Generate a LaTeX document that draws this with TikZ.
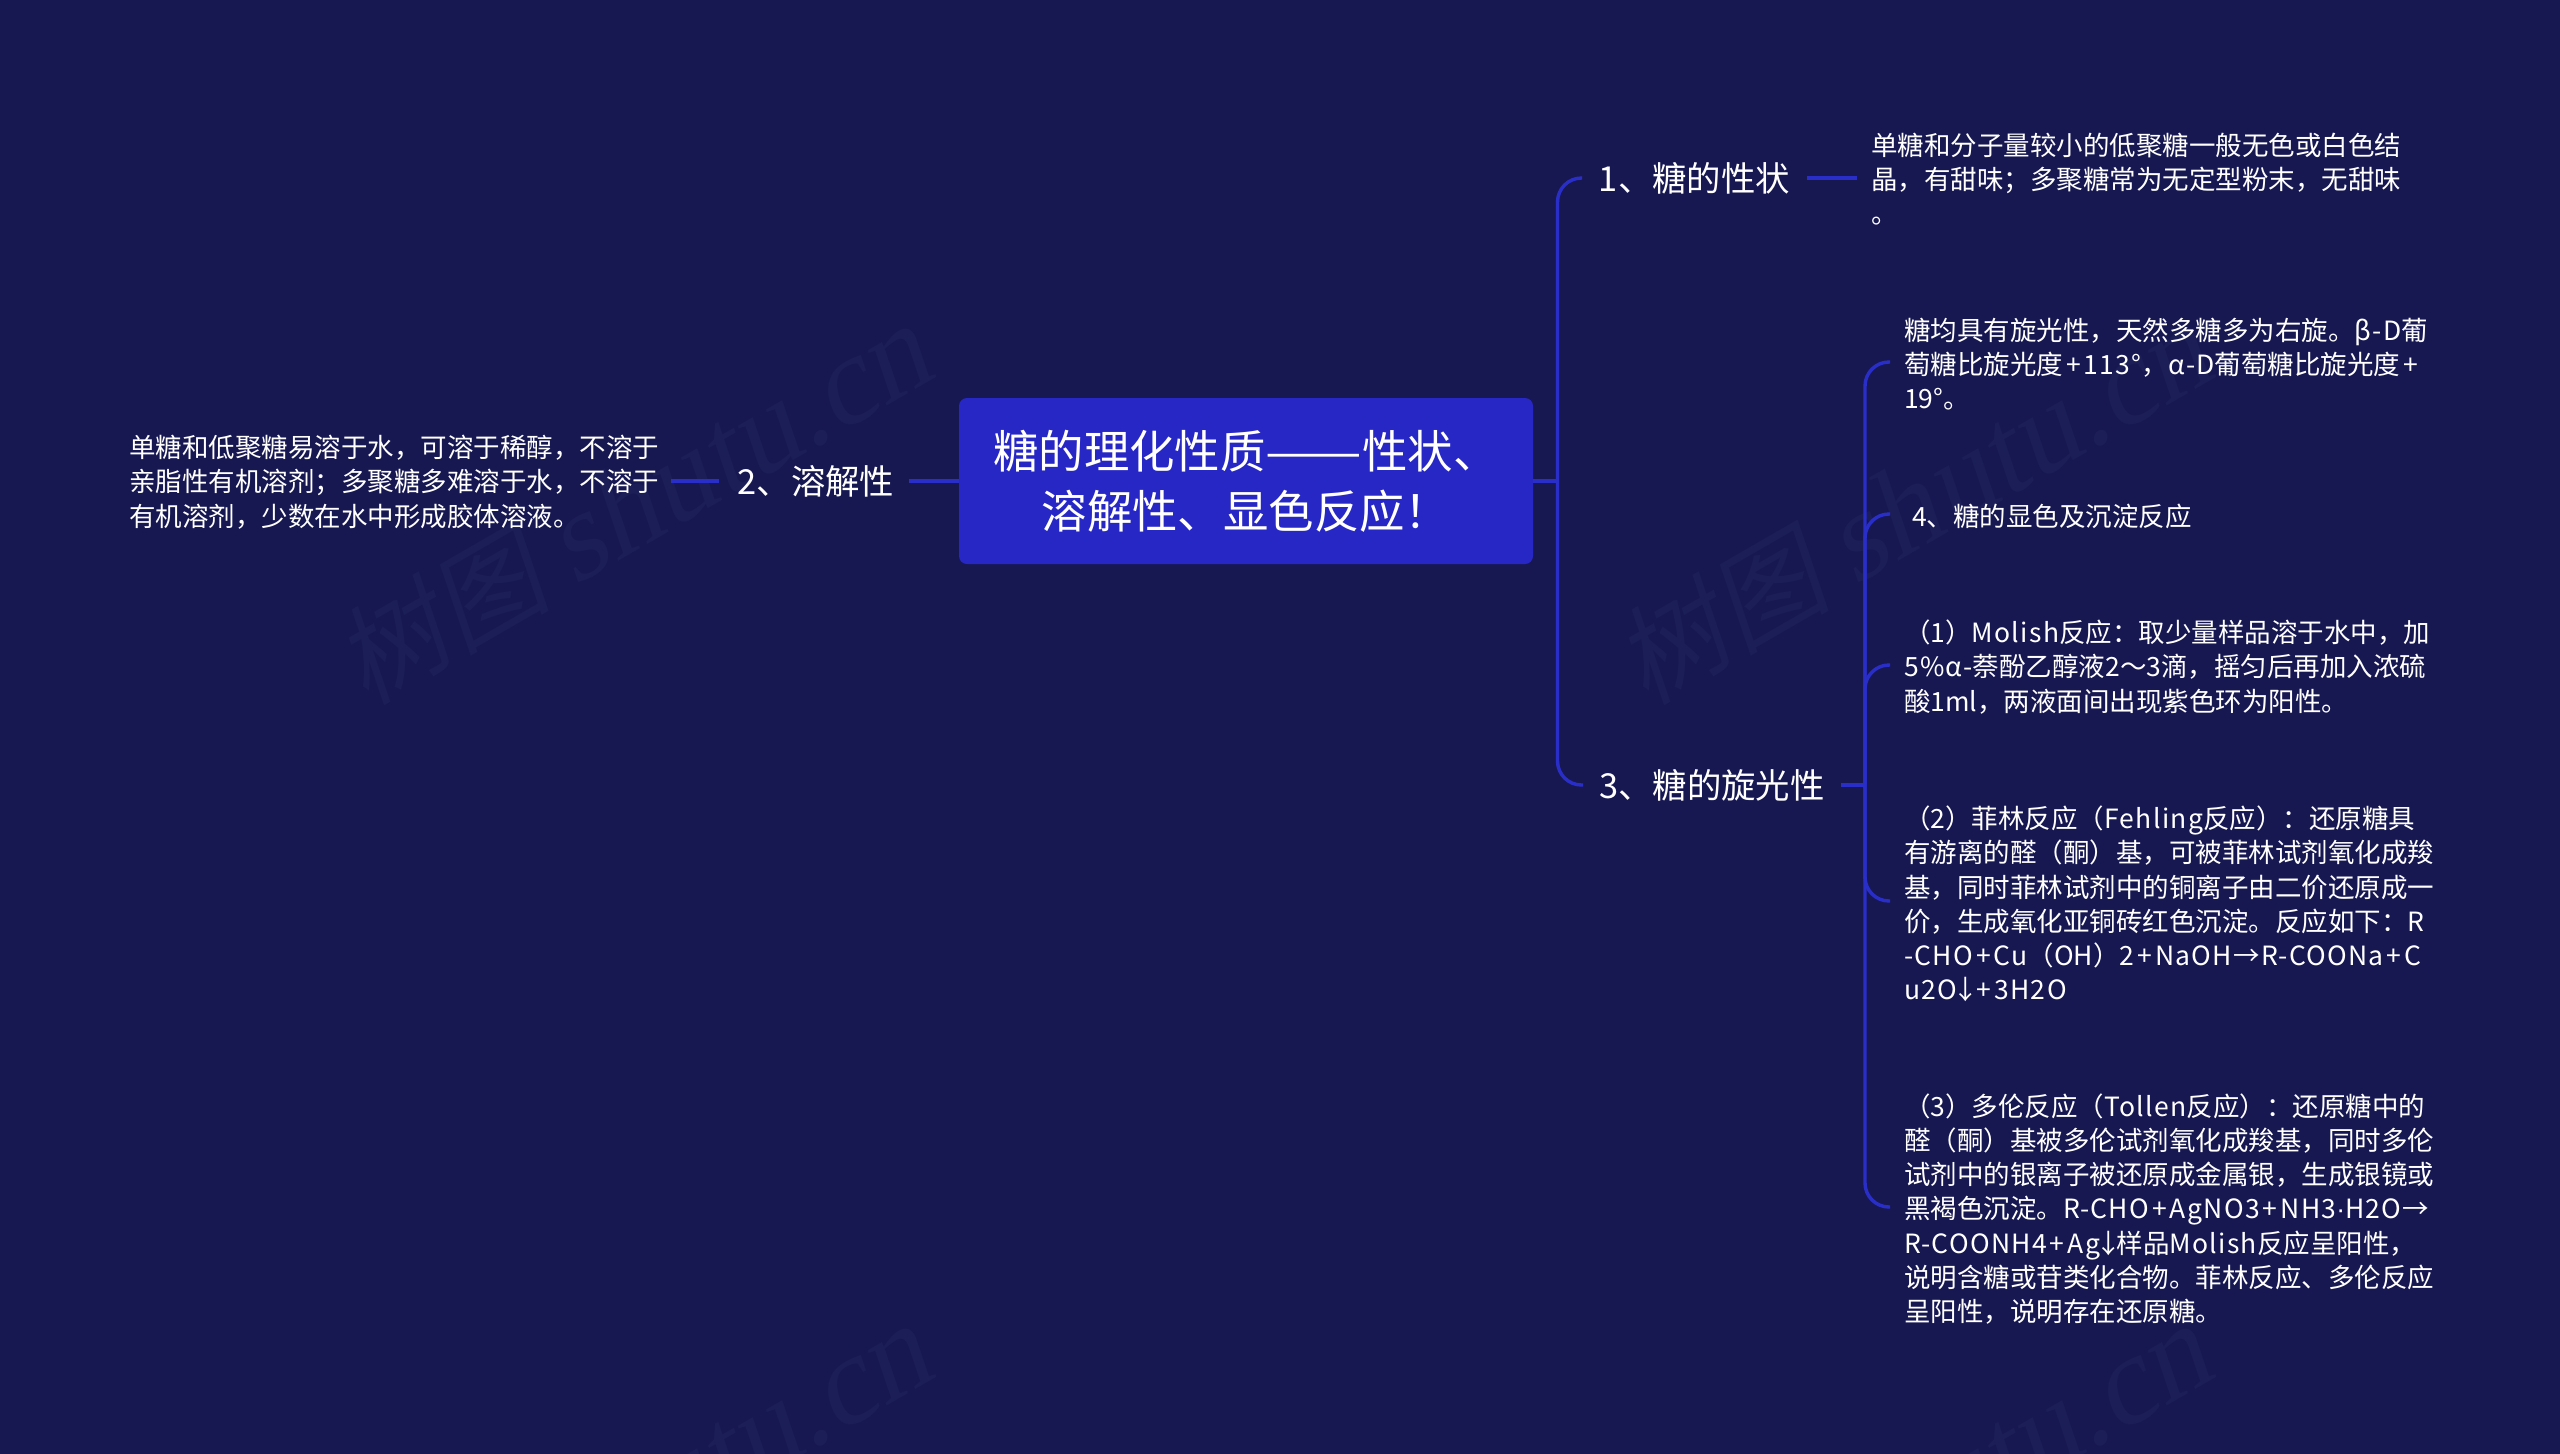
\documentclass[tikz,border=0pt]{standalone}
\usepackage{fontspec}
\setmainfont{Noto Sans CJK SC}
\newfontfamily\markfont[FakeSlant=0.2,Scale=0.9]{Noto Sans CJK SC}
\newfontfamily\marklatin{Liberation Serif}[FakeSlant=0.2,Scale=1.04]
\newfontfamily\lat[LetterSpace=5]{Noto Sans CJK SC}
\newfontfamily\thinsym{Liberation Sans}
\newcommand\pl{\kern1.5pt+\kern1.5pt}
\newcommand\downa{\kern-2.5pt↓\kern-2.5pt}
\usetikzlibrary{positioning}
\definecolor{pagebg}{HTML}{171852}
\definecolor{rootfill}{HTML}{2727C5}
\definecolor{branch}{HTML}{2A2EC8}
\definecolor{markgray}{HTML}{1C1E57}

\begin{document}
\begin{tikzpicture}[x=0.5pt,y=-0.5pt,
      every node/.append style={text=white,inner ysep=0pt,outer sep=0pt},
      rootbox/.style={fill=rootfill,rounded corners=4pt,align=center,minimum width=287pt,minimum height=83pt,
        inner xsep=0pt,font=\fontsize{22.7pt}{30pt}\selectfont},
      topic/.style={inner xsep=0pt,font=\fontsize{17.2pt}{20pt}\selectfont},
      leaf/.style={anchor=west,align=left,inner xsep=7pt,font=\fontsize{13.25pt}{17.1pt}\selectfont},
      link/.style={draw=branch,line width=1.7pt},
      turn/.style={link,rounded corners=12pt},
      wmark/.style={text=markgray,rotate=30,font=\fontsize{60pt}{64pt}\selectfont}]
    \useasboundingbox (0,0) rectangle (2560,1453);
    \fill [pagebg] (-10,-10) rectangle (2570,1463);

    % faint marks behind the map
    \node (markA) [wmark] at (632,506) {\markfont 树图 \marklatin shutu.cn};
    \node (markB) [wmark] at (1912,506) {\markfont 树图 \marklatin shutu.cn};
    \node (markC) [wmark] at (632,1506) {\markfont 树图 \marklatin shutu.cn};
    \node (markD) [wmark] at (1912,1506) {\markfont 树图 \marklatin shutu.cn};

    \node (ROOT) [rootbox] at (1246,481) {糖的理化性质\scalebox{1.27}[1]{——}性状、\\溶解性、显色反应！};

    \node (solubility) [topic,minimum width=95pt] at (814,481) {\kern2pt 2、溶解性};
    \node (solubilityText) [leaf,text width=264pt,anchor=east] at (671,482)
      {单糖和低聚糖易溶于水，可溶于稀醇，不溶于\\
       亲脂性有机溶剂；多聚糖多难溶于水，不溶于\\
       有机溶剂，少数在水中形成胶体溶液。};

    \node (trait) [topic,minimum width=112.5pt] at (1694.5,178) {1、糖的性状};
    \node (traitText) [leaf] at (1857,179)
      {单糖和分子量较小的低聚糖一般无色或白色结\\
       晶，有甜味；多聚糖常为无定型粉末，无甜味\\
       。};

    \node (rotation) [topic,minimum width=129pt] at (1712,785) {3、糖的旋光性};
    \node (rotationText) [leaf] at (1890,364)
      {糖均具有旋光性，天然多糖多为右旋。{\lat β-D}葡\\
       萄糖比旋光度{\lat\pl 113°}，{\lat α-D}葡萄糖比旋光度\pl\\
       19°。};
    \node (colorTitle) [leaf] at (1890,516) {\hspace{4pt}4、糖的显色及沉淀反应};
    \node (molish) [leaf] at (1890,667)
      {（1）{\lat Molish}反应：取少量样品溶于水中，加\\
       {\lat 5\%α-}萘酚乙醇液2～3滴，摇匀后再加入浓硫\\
       酸1ml，两液面间出现紫色环为阳性。};
    \node (fehling) [leaf] at (1890,904)
      {（2）菲林反应（{\lat Fehling}反应）：还原糖具\\
       有游离的醛（酮）基，可被菲林试剂氧化成羧\\
       基，同时菲林试剂中的铜离子由二价还原成一\\
       价，生成氧化亚铜砖红色沉淀。反应如下：R\\
       {\lat -CHO\pl Cu}（OH）{\lat 2\pl NaOH→R-COONa\pl C}\\
       {\lat u2O\downa\pl 3H2O}};
    \node (tollen) [leaf] at (1890,1209)
      {（3）多伦反应（{\lat Tollen}反应）：还原糖中的\\
       醛（酮）基被多伦试剂氧化成羧基，同时多伦\\
       试剂中的银离子被还原成金属银，生成银镜或\\
       黑褐色沉淀。{\lat R-CHO\pl AgNO3\pl NH3{\thinsym ·}H2O→}\\
       {\lat R-COONH4\pl Ag\downa}样品{\lat Molish}反应呈阳性，\\
       说明含糖或苷类化合物。菲林反应、多伦反应\\
       呈阳性，说明存在还原糖。};

    \coordinate (spineA) at (1557.5,481);
    \coordinate (spineB) at (1865,785);

    \draw [link] (ROOT.west) -- (solubility.east);
    \draw [link] (solubility.west) -- ([yshift=0.5pt]solubilityText.east);
    \draw [link] (ROOT.east) -- (spineA);
    \draw [turn] (spineA) |- (trait.west);
    \draw [turn] (spineA) |- (rotation.west);
    \draw [link] (trait.east) -- ([yshift=0.5pt]traitText.west);
    \draw [link] (rotation.east) -- (spineB);
    \draw [turn] (spineB) |- ([yshift=1pt]rotationText.west);
    \draw [turn] (spineB) |- ([yshift=1pt]colorTitle.west);
    \draw [turn] (spineB) |- ([yshift=1pt]molish.west);
    \draw [turn] (spineB) |- ([yshift=1.5pt]fehling.west);
    \draw [turn] (spineB) |- ([yshift=1pt]tollen.west);
\end{tikzpicture}
\end{document}
